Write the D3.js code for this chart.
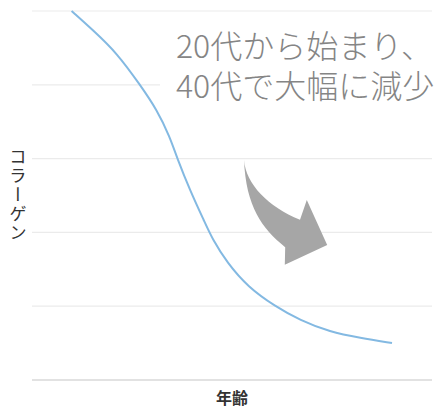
<!DOCTYPE html>
<html><head><meta charset="utf-8">
<script src="https://cdn.jsdelivr.net/npm/d3@7"></script>
<style>body{margin:0;background:#fff}svg{display:block}</style>
</head><body>
<svg id="chart" width="435" height="412"></svg>
<script>
// data
const ages = [9.9, 15.25, 21.25, 27, 31.25, 34.5, 36.25, 39.5, 43.25, 45, 48.75, 54, 60.75, 67, 74.5, 82, 90];
const collagen = [5.0, 4.74, 4.43, 4.0, 3.66, 3.29, 3.01, 2.57, 2.13, 1.92, 1.59, 1.26, 1.0, 0.81, 0.65, 0.57, 0.50];
const yTicks = [0, 1, 2, 3, 4, 5];
const annotationLines = ["20代から始まり、", "40代で大幅に減少"];
const xTitle = "年齢";
const yTitle = "コラーゲン";

const svg = d3.select("#chart");
const m = {left: 32, right: 3, top: 11, bottom: 32};
const W = 435, H = 412;
const x = d3.scaleLinear().domain([0, 100]).range([m.left, W - m.right]);
const y = d3.scaleLinear().domain([0, 5]).range([H - m.bottom, m.top]);

// gridlines
svg.append("g").selectAll("line").data(yTicks).join("line")
  .attr("x1", x(0)).attr("x2", x(100))
  .attr("y1", d => y(d)).attr("y2", d => y(d))
  .attr("stroke", d => d === 0 ? "#d9d9d9" : "#ebebeb")
  .attr("stroke-width", d => d === 0 ? 1.5 : 1.2);

// annotation box (white background, under the line)
svg.append("rect").attr("x", x(32)).attr("y", y(4.75)).attr("width", x(100) - x(32)).attr("height", y(3.5) - y(4.75))
  .attr("fill", "#fff");

// line
const line = d3.line().x((d, i) => x(ages[i])).y(d => y(d)).curve(d3.curveBasis);
svg.append("path").datum(collagen).attr("d", line)
  .attr("fill", "none").attr("stroke", "#83b9e2").attr("stroke-width", 2);

// annotation text
svg.append("text")
  .attr("font-family", "'Noto Sans CJK JP', 'Noto Sans', sans-serif")
  .attr("font-weight", 300)
  .attr("font-size", 32).attr("fill", "#858585")
  .selectAll("tspan").data(annotationLines).join("tspan")
  .attr("x", 176).attr("y", (d, i) => 58 + i * 40)
  .text(d => d);

// curved arrow (annotation shape, expressed in data units)
const P = (a, b) => [x(a), y(b)];
const arrow = d3.path();
arrow.moveTo(...P(53, 2.98));
arrow.bezierCurveTo(...P(53.5, 2.35), ...P(57.5, 2.05), ...P(63.3, 1.80));
arrow.lineTo(...P(63.2, 1.56));
arrow.lineTo(...P(73.8, 1.83));
arrow.lineTo(...P(68.7, 2.44));
arrow.lineTo(...P(67, 2.17));
arrow.bezierCurveTo(...P(59, 2.35), ...P(53.5, 2.65), ...P(53, 2.98));
arrow.closePath();
svg.append("path").attr("d", arrow.toString()).attr("fill", "#a6a6a6");

// axis titles
svg.append("text").attr("x", x(50)).attr("y", 404).attr("text-anchor", "middle")
  .attr("font-family", "'Noto Sans CJK JP', sans-serif").attr("font-weight", 700)
  .attr("font-size", 16).attr("fill", "#333").text(xTitle);
svg.append("text").attr("x", 18).attr("y", 148)
  .attr("font-family", "'Noto Sans CJK JP', sans-serif").attr("font-weight", 400)
  .attr("font-size", 17.5).attr("fill", "#333").attr("letter-spacing", 1.5)
  .style("writing-mode", "vertical-rl").style("text-orientation", "upright")
  .text(yTitle);
</script>
</body></html>
